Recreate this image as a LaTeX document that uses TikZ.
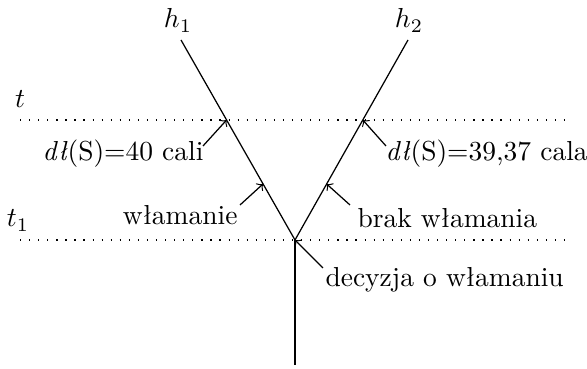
\documentclass[tikz,border=0pt]{standalone}
\usepackage{fontspec}
\begin{document}
\begin{tikzpicture}[x=0.364pt,y=-0.364pt,
  branch/.style={line width=0.45pt},
  timeline/.style={line width=0.45pt, dash pattern=on 0.45pt off 2.85pt},
  pointer/.style={line width=0.45pt,->},
  lbl/.style={inner sep=0pt, font=\fontsize{10}{12}\selectfont}]
\useasboundingbox (0,0) rectangle (587,369);
% main points
\coordinate (V) at (295,240);
\coordinate (B) at (295,365);
\coordinate (L) at (181,40);
\coordinate (R) at (408,40);
\coordinate (cL) at (226.6,120);
\coordinate (cR) at (362.8,120);
\coordinate (wL) at (263,184);
\coordinate (wR) at (326.6,184);
% time lines
\coordinate (ta) at (20,120); \coordinate (tb) at (570,120);
\coordinate (t1a) at (20,240); \coordinate (t1b) at (570,240);
\draw[timeline] (ta) -- (tb);
\draw[timeline] (t1a) -- (t1b);
% branches
\draw[branch] (L) -- (V) -- (R);
\draw[branch] (V) -- (B);
% labels
\node[lbl, anchor=base] (h1) at (178,28) {$h_1$};
\node[lbl, anchor=base] (h2) at (409,28) {$h_2$};
\node[lbl, anchor=base] (t) at (20,108) {$t$};
\node[lbl, anchor=base] (t1) at (18,227) {$t_1$};
\node[lbl, anchor=base east] (dlL) at (204,161) {\textit{dł}(S)=40 cali};
\node[lbl, anchor=base west] (dlR) at (385,161) {\textit{dł}(S)=39,37 cala};
\node[lbl, anchor=base east] (wl) at (238,225) {włamanie};
\node[lbl, anchor=base west] (bw) at (357,228) {brak włamania};
\node[lbl, anchor=base west] (dec) at (325,287) {decyzja o włamaniu};
% pointer tails
\coordinate (pL) at (203,146);
\coordinate (pR) at (386,146);
\coordinate (pw) at (240,205);
\coordinate (pb) at (350,205);
\coordinate (pd) at (323,268);
\draw[pointer] (pL) -- (cL);
\draw[pointer] (pR) -- (cR);
\draw[pointer] (pw) -- (wL);
\draw[pointer] (pb) -- (wR);
\draw[pointer] (pd) -- (V);
\end{tikzpicture}
\end{document}
